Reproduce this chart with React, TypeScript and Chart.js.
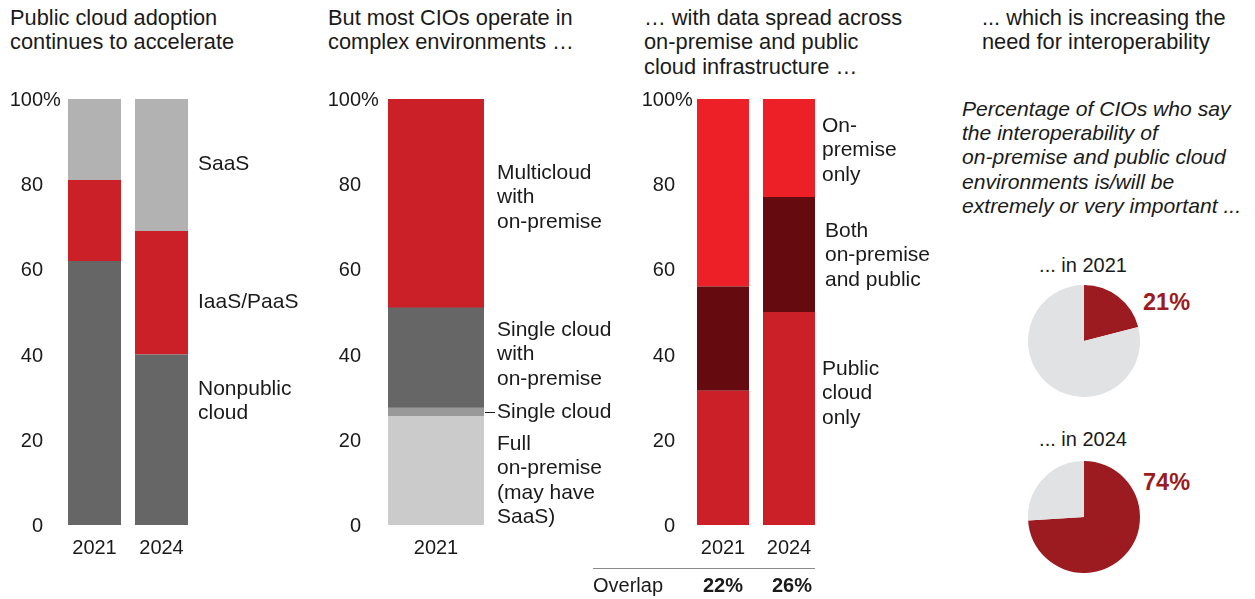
import React, { useEffect, useRef } from 'react';
import { Chart, registerables } from 'chart.js';
Chart.register(...registerables);

const FONT = '"Liberation Sans", Arial, Helvetica, sans-serif';
const TEXT = '#1a1a1a';

// ---- data ----
const years = ['2021', '2024'];
const adoptNonpublic = [62, 40];
const adoptIaas = [19, 29];
const adoptSaas = [19, 31];

const envYears = ['2021'];
const envFull = [25.5];
const envSingle = [2];
const envSingleOnPrem = [23.5];
const envMulti = [49];

const dataPublicOnly = [31.5, 50];
const dataBoth = [24.5, 27];
const dataOnPremOnly = [44, 23];

const overlapLabels = ['22%', '26%'];
const yTickValues = [0, 20, 40, 60, 80, 100];

const interopYears = ['2021', '2024'];
const interopShare = [21, 74];

// ---- plugins ----
const yTickPlugin = (numRight: number) => ({
  id: 'yTicksCustom',
  afterDraw(chart: any) {
    const ctx = chart.ctx;
    const y = chart.scales.y;
    ctx.save();
    ctx.font = `20px ${FONT}`;
    ctx.fillStyle = TEXT;
    ctx.textBaseline = 'middle';
    yTickValues.forEach((v) => {
      const py = y.getPixelForValue(v) + 1.5;
      ctx.textAlign = 'right';
      ctx.fillText(String(v), numRight, py);
      if (v === 100) {
        ctx.textAlign = 'left';
        ctx.fillText('%', numRight, py);
      }
    });
    ctx.restore();
  },
});

const leaderPlugin = {
  id: 'leader',
  afterDraw(chart: any) {
    const meta = chart.getDatasetMeta(1);
    const bar: any = meta.data[0];
    if (!bar) return;
    const yMid = (bar.y + bar.base) / 2;
    const x0 = bar.x + bar.width / 2 + 1;
    const ctx = chart.ctx;
    ctx.save();
    ctx.strokeStyle = TEXT;
    ctx.lineWidth = 1;
    ctx.beginPath();
    ctx.moveTo(x0, Math.round(yMid) + 0.5);
    ctx.lineTo(x0 + 10, Math.round(yMid) + 0.5);
    ctx.stroke();
    ctx.restore();
  },
};

type DS = { label: string; data: number[]; color: string };

function StackedBar(props: {
  left: number; top: number; width: number; height: number;
  padLeft: number; padRight: number; padTop: number;
  labels: string[]; datasets: DS[]; catPct: number; numRight: number; extra?: any;
}) {
  const ref = useRef<HTMLCanvasElement>(null);
  useEffect(() => {
    const chart = new Chart(ref.current as HTMLCanvasElement, {
      type: 'bar',
      data: {
        labels: props.labels,
        datasets: props.datasets.map((d) => ({
          label: d.label,
          data: d.data,
          backgroundColor: d.color,
          borderWidth: 0,
          barPercentage: 1,
          categoryPercentage: props.catPct,
        })),
      },
      options: {
        responsive: false,
        animation: false,
        devicePixelRatio: 1,
        layout: { padding: { left: props.padLeft, right: props.padRight, top: props.padTop, bottom: 0 } },
        plugins: { legend: { display: false }, tooltip: { enabled: false } },
        scales: {
          x: {
            stacked: true,
            grid: { display: false },
            border: { display: false },
            ticks: { font: { family: FONT, size: 20 }, color: TEXT, padding: 3, maxRotation: 0 },
            afterFit: (s: any) => { s.height = 40; },
          },
          y: { stacked: true, display: false, min: 0, max: 100 },
        },
      } as any,
      plugins: [yTickPlugin(props.numRight), ...(props.extra ? [props.extra] : [])],
    });
    return () => chart.destroy();
  }, []);
  return (
    <canvas
      ref={ref}
      width={props.width}
      height={props.height}
      style={{ position: 'absolute', left: props.left, top: props.top, width: props.width, height: props.height }}
    />
  );
}

function Pie(props: { left: number; top: number; size: number; value: number }) {
  const ref = useRef<HTMLCanvasElement>(null);
  useEffect(() => {
    const chart = new Chart(ref.current as HTMLCanvasElement, {
      type: 'pie',
      data: {
        labels: ['Extremely or very important', 'Other'],
        datasets: [{ data: [props.value, 100 - props.value], backgroundColor: ['#9B1B20', '#E1E2E4'], borderWidth: 0 }],
      },
      options: {
        responsive: false,
        animation: false,
        devicePixelRatio: 1,
        plugins: { legend: { display: false }, tooltip: { enabled: false } },
      } as any,
    });
    return () => chart.destroy();
  }, []);
  return (
    <canvas
      ref={ref}
      width={props.size}
      height={props.size}
      style={{ position: 'absolute', left: props.left, top: props.top, width: props.size, height: props.size }}
    />
  );
}

function Txt(props: {
  x: number; cy: number; lines: string[]; size?: number; lh?: number; bold?: boolean; italic?: boolean;
  color?: string; align?: 'left' | 'center'; width?: number;
}) {
  const lh = props.lh ?? 24.5;
  const size = props.size ?? 21;
  const style: React.CSSProperties = {
    position: 'absolute',
    top: props.cy - lh / 2,
    fontFamily: FONT,
    fontSize: size,
    lineHeight: `${lh}px`,
    fontWeight: props.bold ? 700 : 400,
    fontStyle: props.italic ? 'italic' : 'normal',
    color: props.color ?? TEXT,
    whiteSpace: 'pre',
  };
  if (props.align === 'center') {
    const w = props.width ?? 200;
    style.left = props.x - w / 2;
    style.width = w;
    style.textAlign = 'center';
  } else {
    style.left = props.x;
  }
  return (
    <div style={style}>
      {props.lines.map((l, i) => (
        <div key={i}>{l}</div>
      ))}
    </div>
  );
}

export default function App() {
  return (
    <div style={{ position: 'absolute', left: 0, top: 0, width: 1255, height: 599, background: '#fff', overflow: 'hidden' }}>
      {/* Titles */}
      <Txt x={10} cy={18} size={21.8} lines={['Public cloud adoption', 'continues to accelerate']} />
      <Txt x={328} cy={18} size={21.8} lines={['But most CIOs operate in', 'complex environments …']} />
      <Txt x={644} cy={18} size={21.8} lines={['… with data spread across', 'on-premise and public', 'cloud infrastructure …']} />
      <Txt x={982} cy={18} size={21.8} lines={['... which is increasing the', 'need for interoperability']} />

      {/* Panel 1 */}
      <StackedBar
        left={0} top={80} width={200} height={485}
        padLeft={61} padRight={5} padTop={19}
        labels={years}
        catPct={53 / 67}
        numRight={43}
        datasets={[
          { label: 'Nonpublic cloud', data: adoptNonpublic, color: '#666666' },
          { label: 'IaaS/PaaS', data: adoptIaas, color: '#CC2029' },
          { label: 'SaaS', data: adoptSaas, color: '#B2B2B2' },
        ]}
      />
      <Txt x={198} cy={163} lines={['SaaS']} />
      <Txt x={198} cy={301} lines={['IaaS/PaaS']} />
      <Txt x={198} cy={388} lines={['Nonpublic', 'cloud']} />

      {/* Panel 2 */}
      <StackedBar
        left={320} top={80} width={200} height={485}
        padLeft={68} padRight={36} padTop={19}
        labels={envYears}
        catPct={1}
        numRight={41}
        extra={leaderPlugin}
        datasets={[
          { label: 'Full on-premise', data: envFull, color: '#CBCBCB' },
          { label: 'Single cloud', data: envSingle, color: '#999999' },
          { label: 'Single cloud with on-premise', data: envSingleOnPrem, color: '#666666' },
          { label: 'Multicloud with on-premise', data: envMulti, color: '#CC2029' },
        ]}
      />
      <Txt x={497} cy={172} lines={['Multicloud', 'with', 'on-premise']} />
      <Txt x={497} cy={329} lines={['Single cloud', 'with', 'on-premise']} />
      <Txt x={497} cy={411} lines={['Single cloud']} />
      <Txt x={497} cy={443} lines={['Full', 'on-premise', '(may have', 'SaaS)']} />

      {/* Panel 3 */}
      <StackedBar
        left={580} top={80} width={260} height={485}
        padLeft={110} padRight={18} padTop={19}
        labels={years}
        catPct={52 / 66}
        numRight={95}
        datasets={[
          { label: 'Public cloud only', data: dataPublicOnly, color: '#CC2029' },
          { label: 'Both on-premise and public', data: dataBoth, color: '#650A0E' },
          { label: 'On-premise only', data: dataOnPremOnly, color: '#EE2027' },
        ]}
      />
      <Txt x={822} cy={125} lines={['On-', 'premise', 'only']} />
      <Txt x={825} cy={230} lines={['Both', 'on-premise', 'and public']} />
      <Txt x={822} cy={368} lines={['Public', 'cloud', 'only']} />
      <div style={{ position: 'absolute', left: 593, top: 568, width: 222, height: 0, borderTop: '1.5px solid #8a8a8a' }} />
      <Txt x={593} cy={585} size={20} lines={['Overlap']} />
      <Txt x={723} cy={585} size={20} bold align="center" width={80} lines={[overlapLabels[0]]} />
      <Txt x={792} cy={585} size={20} bold align="center" width={80} lines={[overlapLabels[1]]} />

      {/* Panel 4 */}
      <Txt
        x={962} cy={109} lh={24.3} size={21.1} italic
        lines={[
          'Percentage of CIOs who say',
          'the interoperability of',
          'on-premise and public cloud',
          'environments is/will be',
          'extremely or very important ...',
        ]}
      />
      <Txt x={1083} cy={265} size={20} align="center" width={160} lines={[`... in ${interopYears[0]}`]} />
      <Pie left={1028} top={285} size={112} value={interopShare[0]} />
      <Txt x={1143} cy={302} size={23.5} bold color="#9B1B20" lines={[`${interopShare[0]}%`]} />
      <Txt x={1083} cy={439} size={20} align="center" width={160} lines={[`... in ${interopYears[1]}`]} />
      <Pie left={1028} top={461} size={112} value={interopShare[1]} />
      <Txt x={1143} cy={482} size={23.5} bold color="#9B1B20" lines={[`${interopShare[1]}%`]} />
    </div>
  );
}
